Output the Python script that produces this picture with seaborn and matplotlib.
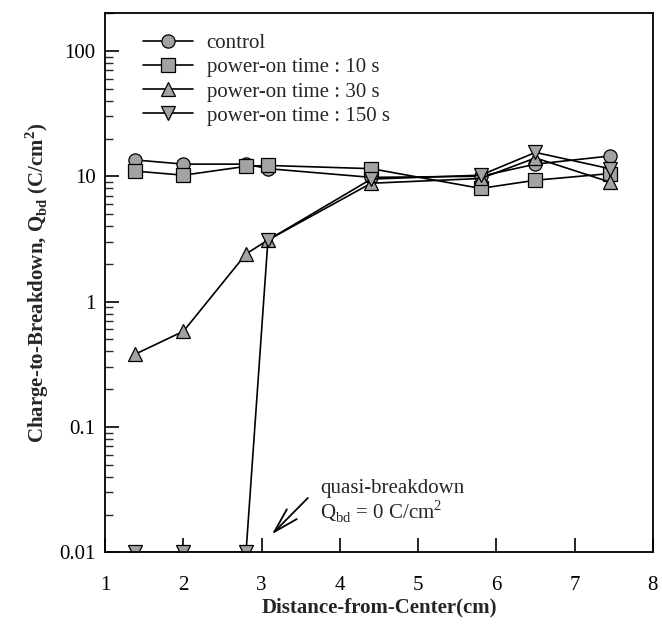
import matplotlib
matplotlib.use("Agg")
import matplotlib.pyplot as plt
import seaborn as sns

# distance from wafer center (cm)
distance = [1.38, 2.0, 2.8, 3.08, 4.4, 5.8, 6.5, 7.45]

# charge-to-breakdown, C/cm^2
q_control = [13.5, 12.5, 12.5, 11.5, 9.8, 10.0, 12.5, 14.5]
q_10s = [11.0, 10.2, 12.0, 12.2, 11.5, 8.0, 9.3, 10.5]
q_30s = [0.38, 0.58, 2.4, 3.1, 8.8, 9.6, 14.0, 9.0]
q_150s = [0.01, 0.01, 0.01, 3.1, 9.5, 10.2, 15.5, 11.5]

labels = ["control", "power-on time : 10 s", "power-on time : 30 s",
          "power-on time : 150 s"]
markers = ["o", "s", "^", "v"]

sns.set_style("ticks")
plt.rcParams["font.family"] = ["Liberation Serif", "DejaVu Serif"]
plt.rcParams["mathtext.fontset"] = "custom"
plt.rcParams["mathtext.rm"] = "Liberation Serif"
plt.rcParams["mathtext.bf"] = "Liberation Serif:bold"

fig, ax = plt.subplots(figsize=(6.62, 6.29), dpi=100)
fig.subplots_adjust(left=0.159, right=0.986, top=0.979, bottom=0.122)

for series, mk, lab in zip([q_control, q_10s, q_30s, q_150s], markers, labels):
    sns.lineplot(x=distance, y=series, ax=ax, color="black", linewidth=1.2,
                 marker=mk, markersize=9.5, markerfacecolor="#a3a3a3",
                 markeredgecolor="black", markeredgewidth=0.9, label=lab)

ax.set_yscale("log")
ax.set_xlim(1, 8)
ax.set_ylim(0.01, 200)
ax.set_xticks(range(1, 9))
ax.set_yticks([0.01, 0.1, 1, 10, 100])
ax.set_yticklabels(["0.01", "0.1", "1", "10", "100"])

ax.tick_params(axis="both", which="major", direction="in", length=10,
               width=1.2, labelsize=15, colors="black")
ax.tick_params(axis="x", which="major", pad=17)
ax.tick_params(axis="y", which="major", pad=7)
ax.tick_params(axis="y", which="minor", direction="in", length=6, width=1)
ax.tick_params(axis="x", which="minor", bottom=False)
for sp in ax.spines.values():
    sp.set_linewidth(1.3)
    sp.set_color("black")

ax.set_xlabel("Distance-from-Center(cm)", fontsize=15, fontweight="bold",
              labelpad=2)
ax.set_ylabel(r"Charge-to-Breakdown, Q$_\mathbf{bd}$ (C/cm$^\mathbf{2}$)",
              fontsize=15, fontweight="bold", labelpad=6)

ax.text(3.75, 0.0385, "quasi-breakdown\n" + r"Q$_\mathrm{bd}$ = 0 C/cm$^\mathrm{2}$",
        fontsize=15, ha="left", va="top", linespacing=1.05)
ax.annotate("", xy=(3.13, 0.0139), xytext=(3.59, 0.0271),
            arrowprops=dict(arrowstyle="->,head_length=0.9,head_width=0.25",
                            color="black", lw=1.3, shrinkA=0, shrinkB=0,
                            mutation_scale=20))

leg = ax.legend(loc="upper left", frameon=False, fontsize=15,
                handlelength=2.4, handletextpad=0.65, labelspacing=0.22,
                borderaxespad=0, borderpad=0, bbox_to_anchor=(0.069, 0.962))

fig.savefig("out.png", dpi=100)
